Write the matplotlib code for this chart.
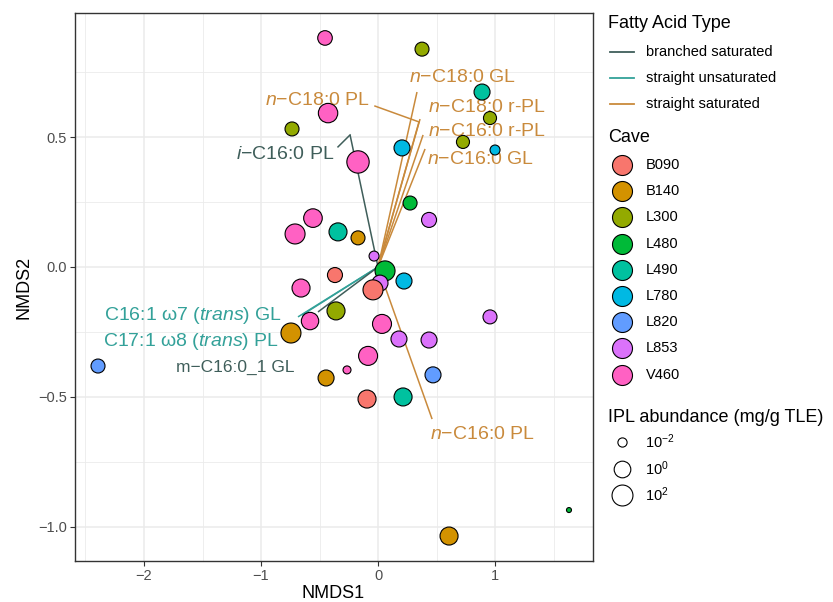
import matplotlib
matplotlib.use("Agg")
import matplotlib.pyplot as plt
import numpy as np

plt.rcParams["font.family"] = ["Liberation Sans", "DejaVu Sans"]
plt.rcParams["mathtext.fontset"] = "custom"
plt.rcParams["mathtext.rm"] = "Liberation Sans"
plt.rcParams["mathtext.it"] = "Liberation Sans:italic"

# cave legend
CAVES = ["B090", "B140", "L300", "L480", "L490", "L780", "L820", "L853", "V460"]
CAVE_COLORS = ["#F8766D", "#D39200", "#93AA00", "#00BA38", "#00C19F",
               "#00B9E3", "#619CFF", "#DB72FB", "#FF61C3"]

# NMDS site scores
site_cave = ["V460", "L300", "L490", "L300", "L300", "L780", "L780", "L300", "V460", "V460",
             "L480", "L853", "V460", "V460", "L490", "B140", "L853", "L480", "B090", "L853",
             "B090", "L780", "V460", "L300", "V460", "B140", "V460", "L853", "L853", "L853",
             "V460", "L820", "B140", "V460", "B090", "L490", "L820", "B140", "L480"]
nmds1 = [-0.453, 0.376, 0.889, 0.957, 0.726, 1.000, 0.205, -0.735, -0.427, -0.171,
         0.274, 0.436, -0.556, -0.709, -0.342, -0.171, -0.034, 0.060, -0.368, 0.017,
         -0.043, 0.222, -0.658, -0.359, -0.581, -0.744, 0.034, 0.179, 0.436, 0.957,
         -0.085, 0.470, -0.444, -0.265, -0.094, 0.214, -2.393, 0.607, 1.632]
nmds2 = [0.881, 0.838, 0.673, 0.573, 0.481, 0.450, 0.458, 0.531, 0.592, 0.404,
         0.246, 0.181, 0.188, 0.127, 0.135, 0.112, 0.042, -0.015, -0.031, -0.062,
         -0.088, -0.054, -0.081, -0.169, -0.208, -0.254, -0.219, -0.277, -0.281, -0.192,
         -0.342, -0.415, -0.427, -0.396, -0.508, -0.500, -0.381, -1.035, -0.935]
# log10 IPL abundance (mg/g TLE)
log_abund = [-0.74, -0.93, -0.25, -1.20, -1.20, -1.88, -0.25, -0.93, 1.22, 2.80,
             -0.93, -0.60, 0.84, 1.51, 0.57, -0.93, -1.88, 1.51, -0.60, -0.25,
             1.51, -0.25, 0.57, 0.57, 0.30, 1.51, 1.02, -0.25, -0.25, -0.93,
             1.02, -0.25, -0.25, -2.15, 0.57, 0.57, -0.93, 0.57, -2.30]

# fatty acid vectors
FA_TYPES = ["branched saturated", "straight unsaturated", "straight saturated"]
FA_COLORS = ["#3f5e5a", "#33a199", "#c98a3c"]
fa_label = [r"$\mathit{i}$" + "\u2212C16:0 PL",
            r"$\mathit{n}$" + "\u2212C18:0 GL",
            r"$\mathit{n}$" + "\u2212C18:0 PL",
            r"$\mathit{n}$" + "\u2212C18:0 r-PL",
            r"$\mathit{n}$" + "\u2212C16:0 r-PL",
            r"$\mathit{n}$" + "\u2212C16:0 GL",
            r"$\mathit{n}$" + "\u2212C16:0 PL",
            "C16:1 \u03c97 (" + r"$\mathit{trans}$" + ") GL",
            "C17:1 \u03c98 (" + r"$\mathit{trans}$" + ") PL",
            "m\u2212C16:0_1 GL"]
fa_type = ["branched saturated", "straight saturated", "straight saturated", "straight saturated",
           "straight saturated", "straight saturated", "straight saturated",
           "straight unsaturated", "straight unsaturated", "branched saturated"]
vec_x = [-0.239, 0.333, 0.350, 0.359, 0.385, 0.402, 0.462, -0.684, -0.650, -0.513]
vec_y = [0.508, 0.673, 0.558, 0.569, 0.508, 0.454, -0.585, -0.192, -0.185, -0.173]
lab_x = [-0.795, 0.718, -0.521, 0.932, 0.932, 0.872, 0.889, -1.581, -1.598, -1.222]
lab_y = [0.431, 0.727, 0.642, 0.615, 0.523, 0.415, -0.646, -0.185, -0.288, -0.385]
lab_size = [14, 14, 14, 14, 14, 14, 14, 14, 14, 12.5]
# repel connector ends (None = no visible connector)
conn_x = [-0.342, None, -0.026, None, None, None, None, None, None, None]
conn_y = [0.462, None, 0.619, None, None, None, None, None, None, None]

LEGEND_ABUND = [-2, 0, 2]
LEGEND_ABUND_TEXT = [r"$10^{-2}$", r"$10^{0}$", r"$10^{2}$"]

W, H, DPI = 833, 602, 100
PX2PT = 72 / DPI


def radius_px(t):
    t = np.asarray(t, dtype=float)
    return 2.5 + 8.5 * np.sqrt(np.clip((t + 2.3) / 4.9, 0, None))


def marker_area(r):
    return (2 * np.asarray(r) * PX2PT) ** 2


def main() -> None:
    fig = plt.figure(figsize=(W / DPI, H / DPI), dpi=DPI)
    left, right, top, bottom = 74.5, 592.5, 13, 561
    ax = fig.add_axes([left / W, 1 - bottom / H, (right - left) / W, (bottom - top) / H])

    ax.set_xlim(-2.594, 1.833)
    ax.set_ylim(-1.131, 0.977)
    ax.set_xticks([-2, -1, 0, 1])
    ax.set_xticklabels(["\u22122", "\u22121", "0", "1"])
    ax.set_yticks([-1.0, -0.5, 0.0, 0.5])
    ax.set_yticklabels(["\u22121.0", "\u22120.5", "0.0", "0.5"])
    ax.set_xticks([-2.5, -1.5, -0.5, 0.5, 1.5], minor=True)
    ax.set_yticks([-0.75, -0.25, 0.25, 0.75], minor=True)
    ax.grid(which="major", color="#ebebeb", linewidth=1.1)
    ax.grid(which="minor", color="#ebebeb", linewidth=0.6)
    ax.set_axisbelow(True)
    ax.tick_params(which="major", length=3.5, width=0.8, color="#333333",
                   labelsize=10.5, labelcolor="#4d4d4d", pad=2)
    ax.tick_params(which="minor", length=0)
    for sp in ax.spines.values():
        sp.set_color("#333333")
        sp.set_linewidth(1.0)
    ax.set_xlabel("NMDS1", fontsize=13, labelpad=2)
    ax.set_ylabel("NMDS2", fontsize=13, labelpad=4)

    type_color = dict(zip(FA_TYPES, FA_COLORS))
    for i in range(len(fa_label)):
        c = type_color[fa_type[i]]
        ax.plot([0, vec_x[i]], [0, vec_y[i]], color=c, linewidth=1.1, zorder=2,
                solid_capstyle="butt")
        if conn_x[i] is not None:
            ax.plot([vec_x[i], conn_x[i]], [vec_y[i], conn_y[i]], color=c,
                    linewidth=1.1, zorder=2)
        ax.text(lab_x[i], lab_y[i], fa_label[i], color=c, fontsize=lab_size[i],
                ha="center", va="center", zorder=3)

    cave_color = dict(zip(CAVES, CAVE_COLORS))
    colors = [cave_color[c] for c in site_cave]
    ax.scatter(nmds1, nmds2, s=marker_area(radius_px(log_abund)), c=colors,
               edgecolors="black", linewidths=0.8, zorder=4)

    # legends drawn in pixel space to the right of the panel
    leg = fig.add_axes([0, 0, 1, 1])
    leg.set_xlim(0, W)
    leg.set_ylim(H, 0)
    leg.axis("off")
    leg.patch.set_visible(False)

    leg.text(608, 23, "Fatty Acid Type", fontsize=13, ha="left", va="center")
    for i, (name, c) in enumerate(zip(FA_TYPES, FA_COLORS)):
        y = 52 + 26 * i
        leg.plot([610, 634], [y, y], color=c, linewidth=1.3)
        leg.text(646, y, name, fontsize=10.5, ha="left", va="center")

    leg.text(608, 138, "Cave", fontsize=13, ha="left", va="center")
    for i, (name, c) in enumerate(zip(CAVES, CAVE_COLORS)):
        y = 165 + 26.2 * i
        leg.scatter([622], [y], s=marker_area(10), c=c, edgecolors="black", linewidths=0.8)
        leg.text(646, y, name, fontsize=10.5, ha="left", va="center")

    leg.text(608, 418, "IPL abundance (mg/g TLE)", fontsize=13, ha="left", va="center")
    for i, (t, txt) in enumerate(zip(LEGEND_ABUND, LEGEND_ABUND_TEXT)):
        y = 442 + 26.5 * i
        leg.scatter([622], [y], s=marker_area(radius_px(t)), c="white",
                    edgecolors="black", linewidths=0.8)
        leg.text(645, y, txt, fontsize=10.5, ha="left", va="center")

    fig.savefig("out.png", dpi=DPI)
    plt.close(fig)


if __name__ == "__main__":
    main()
